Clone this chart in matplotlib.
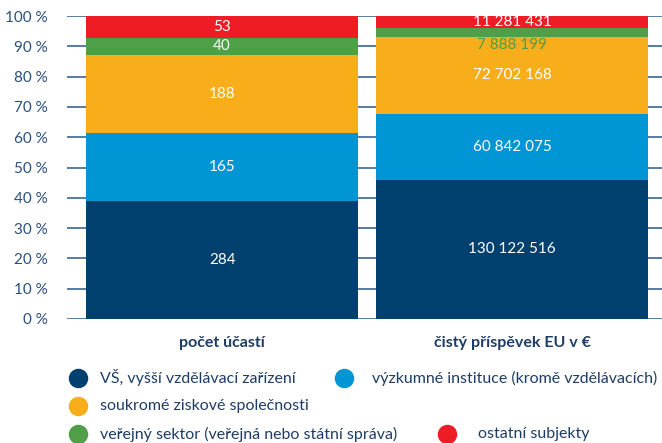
import matplotlib.pyplot as plt
from matplotlib.lines import Line2D
import numpy as np

plt.rcParams['font.family'] = ['Lato', 'DejaVu Sans']

categories = ['počet účastí', 'čistý příspěvek EU v €']
series = ['VŠ, vyšší vzdělávací zařízení', 'výzkumné instituce (kromě vzdělávacích)',
          'soukromé ziskové společnosti', 'veřejný sektor (veřejná nebo státní správa)',
          'ostatní subjekty']
counts = [284, 165, 188, 40, 53]
money = [130122516, 60842075, 72702168, 7888199, 11281431]
colors = ['#00406F', '#0096D6', '#F8AE1A', '#4F9E48', '#EE1D25']

def fmt(v):
    return f'{v:,}'.replace(',', ' ')

fig = plt.figure(figsize=(6.62, 4.43), dpi=100)
ax = fig.add_axes([67 / 662, 1 - 319 / 443, 595 / 662, 303 / 443])

data = np.array([counts, money], dtype=float)
shares = data / data.sum(axis=1, keepdims=True) * 100
x = np.arange(len(categories))
bottom = np.zeros(len(categories))
for i, name in enumerate(series):
    ax.bar(x, shares[:, i], bottom=bottom, width=0.938, color=colors[i], zorder=2)
    for j in range(len(categories)):
        val = data[j, i]
        txt = fmt(int(val))
        y = bottom[j] + shares[j, i] / 2
        col = 'white'
        # thin green segment on the money bar: label sits just below it
        if j == 1 and i == 3:
            y = bottom[j] - 2.9
            col = '#4F9E48'
        ax.text(x[j], y, txt, ha='center', va='center', color=col, fontsize=11, zorder=3)
    bottom += shares[:, i]

ax.set_xlim(-0.535, 1.517)
ax.set_ylim(0, 100)
ax.set_yticks(range(0, 101, 10))
ax.set_yticklabels([f'{t} %' for t in range(0, 101, 10)], fontsize=11, color='#2B4F7C')
ax.tick_params(axis='y', length=0, pad=14)
ax.set_xticks([])
ax.grid(axis='y', color='#3A6592', linewidth=1.2, zorder=0)
for s in ax.spines.values():
    s.set_visible(False)

for xc, lab in zip(x, categories):
    ax.text(xc, -8, lab, ha='center', va='center', fontsize=11.5, fontweight='bold',
            color='#1E3D66', transform=ax.transData, clip_on=False)

# legend
leg_pos = [(78, 378, 100), (344, 378, 372), (78, 406, 100), (78, 434, 100), (447, 434, 478)]
for (cx, cy, tx), name, c in zip(leg_pos, series, colors):
    fig.add_artist(Line2D([cx / 662], [1 - cy / 443], marker='o', markersize=13,
                          color=c, linestyle='none', transform=fig.transFigure))
    fig.text(tx / 662, 1 - cy / 443, name, ha='left', va='center', fontsize=11.5, color='#1E3D66')

fig.savefig('out.png', dpi=100)
